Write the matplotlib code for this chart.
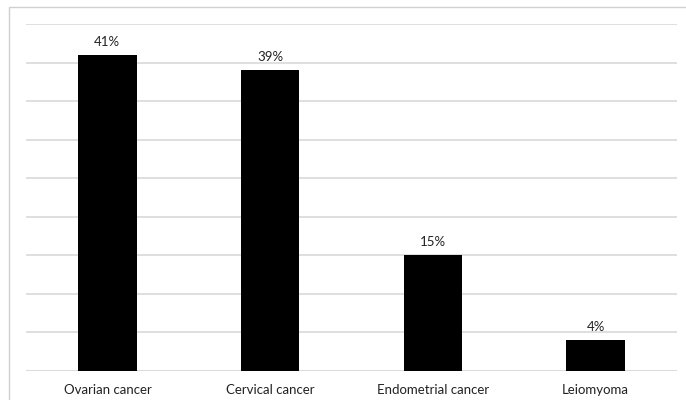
import matplotlib
matplotlib.use("Agg")
import matplotlib.pyplot as plt
from matplotlib.patches import Rectangle

categories = ["Ovarian cancer", "Cervical cancer", "Endometrial cancer", "Leiomyoma"]
values = [41, 39, 15, 4]
labels = ["41%", "39%", "15%", "4%"]

plt.rcParams['font.family'] = ['Lato', 'DejaVu Sans']

W, H = 686, 400
fig = plt.figure(figsize=(W / 100, H / 100), dpi=100)

# outer chart-area frame
fig.add_artist(Rectangle((9 / W, -0.05), 1.2, (H - 7) / H + 0.05, transform=fig.transFigure,
                         fill=False, edgecolor="#d0d0d0", linewidth=1.0))

ax = fig.add_axes([26 / W, 29 / H, (677 - 26) / W, (371 - 24) / H])
x = range(len(categories))
ax.bar(x, values, width=0.36, color="black", zorder=3)
ax.set_xlim(-0.5, len(categories) - 0.5)
ax.set_ylim(0, 45)
ax.set_yticks(range(0, 46, 5))
ax.yaxis.grid(True, color="#d9d9d9", linewidth=1.2, zorder=0)
ax.tick_params(axis="y", left=False, labelleft=False)
ax.tick_params(axis="x", bottom=False, labelsize=9.5, pad=6, colors="#222222")
ax.set_xticks(list(x))
ax.set_xticklabels(categories)
for s in ax.spines.values():
    s.set_visible(False)
ax.axhline(0, color="#d9d9d9", linewidth=1.2, zorder=2)

for xi, v, lab in zip(x, values, labels):
    ax.annotate(lab, (xi, v), xytext=(0, 5), textcoords="offset points",
                ha="center", va="bottom", fontsize=9.5, color="#222222")

fig.savefig("out.png", dpi=100)
